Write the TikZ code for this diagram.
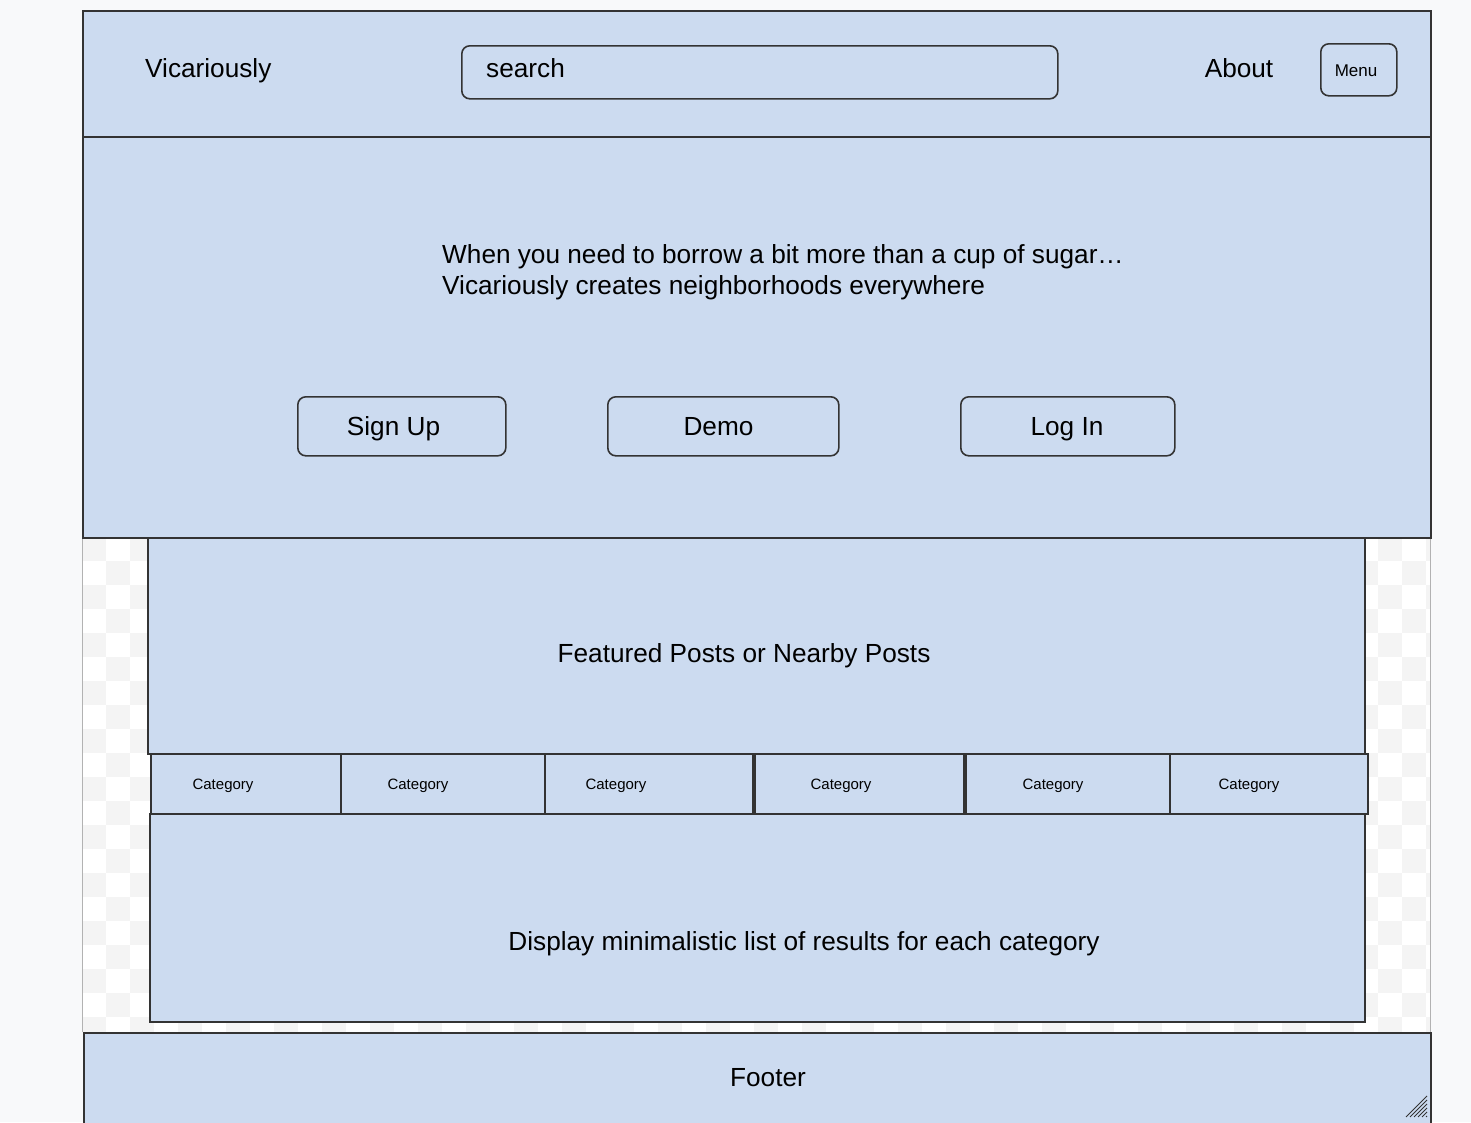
\documentclass[tikz,border=0pt]{standalone}
\usepackage{fontspec}
\setmainfont{Liberation Sans}
\definecolor{pane}{HTML}{CCDBF0}
\definecolor{edge}{HTML}{333333}
\definecolor{page}{HTML}{F8F9FA}
\definecolor{chk}{HTML}{F4F4F4}
\begin{document}
\begin{tikzpicture}[x=1pt,y=-1pt,
  panel/.style={draw=edge,fill=pane,line width=1.6pt},
  btn/.style={draw=edge,fill=pane,line width=1.6pt,rounded corners=8pt},
  cat/.style={draw=edge,fill=pane,line width=1.9pt},
  lbl/.style={inner sep=0pt,text=black,anchor=base},
  big/.style={font=\fontsize{26.2}{31}\selectfont},
]
\useasboundingbox (0,0) rectangle (1471,1122);
\fill[page] (0,0) rectangle (1471,1122);
% checkered backdrop
\fill[white] (82,537) rectangle (1430,1032);
\begin{scope}
\clip (82,537) rectangle (1430,1032);
\foreach \i in {0,...,56}{
  \foreach \j in {0,...,20}{
    \pgfmathtruncatemacro{\chkpar}{mod(\i+\j,2)}
    \ifnum\chkpar=0
      \fill[chk] ({82+24*\i},{537+24*\j}) rectangle +(24,24);
    \fi
  }
}
\end{scope}
\draw[gray!60,line width=0.8pt] (82,537) -- (82,1032);
\draw[gray!60,line width=0.8pt] (1430,537) -- (1430,1032);

% header
\node[panel,minimum width=1348pt,minimum height=126pt,anchor=north west] (header) at (82,10) {};
\node[lbl,big,anchor=base west] (brand) at (145,77) {Vicariously};
\node[btn,minimum width=596pt,minimum height=53pt,anchor=north west] (search) at (461,45) {};
\node[lbl,big,anchor=base west] (searchtxt) at (486,77) {search};
\node[lbl,big] (about) at (1239,77.5) {About};
\node[btn,minimum width=76pt,minimum height=52pt,anchor=north west] (menu) at (1320,43) {};
\node[lbl,font=\fontsize{17}{20}\selectfont] (menutxt) at (1356,76.5) {Menu};

% hero
\node[panel,minimum width=1348pt,minimum height=401pt,anchor=north west] (hero) at (82,136) {};
\node[lbl,big,anchor=base west] (tag1) at (442,263.5) {When you need to borrow a bit more than a cup of sugar…};
\node[lbl,big,anchor=base west] (tag2) at (442,294.5) {Vicariously creates neighborhoods everywhere};
\node[btn,minimum width=208pt,minimum height=59pt,anchor=north west] (signup) at (297,396) {};
\node[lbl,big] (signuptxt) at (393.5,435) {Sign Up};
\node[btn,minimum width=231pt,minimum height=59pt,anchor=north west] (demo) at (607,396) {};
\node[lbl,big] (demotxt) at (718.5,435) {Demo};
\node[btn,minimum width=214pt,minimum height=59pt,anchor=north west] (login) at (960,396) {};
\node[lbl,big] (logintxt) at (1067,435) {Log In};

% featured
\node[panel,minimum width=1217pt,minimum height=216pt,anchor=north west] (featured) at (147,537) {};
\node[lbl,big] (feattxt) at (744,662) {Featured Posts or Nearby Posts};

% list
\node[panel,minimum width=1215pt,minimum height=208pt,anchor=north west] (list) at (149,813) {};
\node[lbl,big] (listtxt) at (804,950) {Display minimalistic list of results for each category};

% categories
\foreach \n/\a/\b/\t in {c1/150/340/223, c2/340/544/418, c3/544/752/616, c4/754/963/841, c5/965/1169/1053, c6/1169/1367/1249}{
  \node[cat,minimum width={(\b-\a)*1pt},minimum height=60pt,anchor=north west] (\n) at (\a,753) {};
  \node[lbl,font=\fontsize{15}{18}\selectfont] (\n t) at (\t,789) {Category};
}

% footer
\node[panel,minimum width=1347pt,minimum height=100pt,anchor=north west] (footer) at (83,1032) {};
\node[lbl,big] (foottxt) at (768,1086) {Footer};
\foreach \k in {0,...,5}{
  \draw[edge,line width=0.8pt] (1427,{1096+4*\k}) -- ({1406+4*\k},1117);
}
\end{tikzpicture}
\end{document}
